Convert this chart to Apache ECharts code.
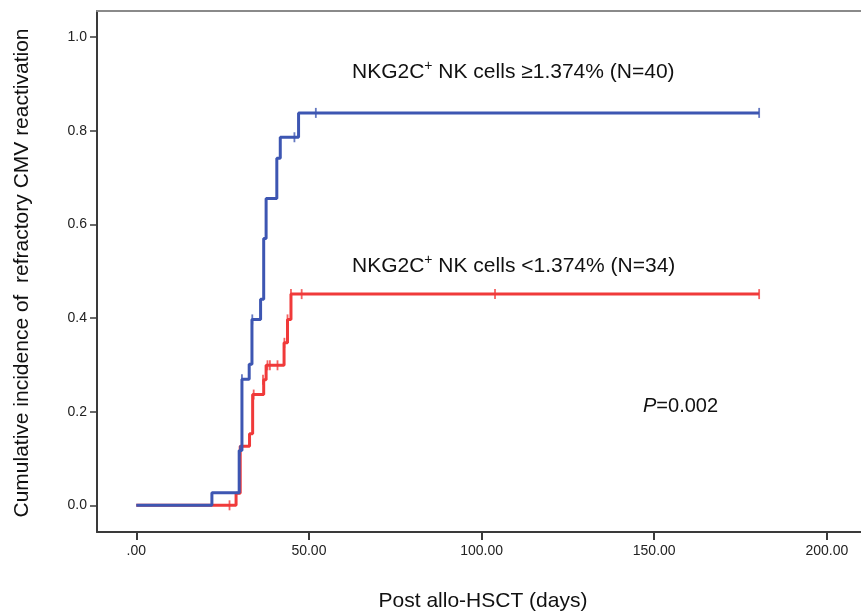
<!DOCTYPE html>
<html>
<head>
<meta charset="utf-8">
<script src="https://cdn.jsdelivr.net/npm/echarts@6/dist/echarts.min.js"></script>
<style>
  html, body { margin: 0; padding: 0; background: #fff; }
  #chart { width: 861px; height: 613px; }
</style>
</head>
<body>
<div id="chart"></div>
<script>
// Cumulative incidence of refractory CMV reactivation by NKG2C+ NK cell level
const xTicks = [0, 50, 100, 150, 200];
const xTickLabels = ['.00', '50.00', '100.00', '150.00', '200.00'];
const yTicks = [0, 0.2, 0.4, 0.6, 0.8, 1.0];
const yTickLabels = ['0.0', '0.2', '0.4', '0.6', '0.8', '1.0'];

// High group (>=1.374%), step curve: event times and cumulative incidence
const highTimes  = [0, 21.9, 29.8, 30.6, 32.7, 33.5, 36.0, 36.9, 37.6, 40.7, 41.7, 47.0, 180.4];
const highValues = [0, 0.027, 0.117, 0.269, 0.301, 0.397, 0.440, 0.570, 0.655, 0.741, 0.786, 0.838, 0.838];
// High group censored observations
const highCensorTimes  = [30.0, 30.6, 33.6, 45.8, 52.0, 180.4];
const highCensorValues = [0.117, 0.269, 0.397, 0.786, 0.838, 0.838];

// Low group (<1.374%)
const lowTimes  = [0, 28.9, 30.1, 32.8, 33.7, 36.9, 37.6, 42.8, 43.8, 44.8, 180.4];
const lowValues = [0, 0.026, 0.126, 0.153, 0.2365, 0.268, 0.299, 0.347, 0.397, 0.451, 0.451];
const lowCensorTimes  = [27.0, 34.0, 36.7, 38.0, 38.7, 40.9, 42.9, 43.8, 44.8, 47.9, 103.9, 180.4];
const lowCensorValues = [0, 0.2365, 0.268, 0.299, 0.299, 0.299, 0.347, 0.397, 0.451, 0.451, 0.451, 0.451];

const highLabel = 'NKG2C⁺ NK cells ≥1.374% (N=40)';
const lowLabel = 'NKG2C⁺ NK cells <1.374% (N=34)';

const BLUE = '#3d56b2';
const RED = '#f03a3a';
const FONT = '"Liberation Sans", Arial, sans-serif';
const TEXT = '#111';

// visible axis range; the frame runs off the right edge of the canvas
const X_MIN = -11.38, X_MAX = 209.9;
const Y_MIN = -0.057, Y_MAX = 1.0556;

const zip = (xs, ys) => xs.map((x, i) => [x, ys[i]]);

const chart = echarts.init(document.getElementById('chart'), null, { renderer: 'canvas' });

const riskLabel = (text) => {
  // split around the superscript plus so it can be drawn raised and smaller
  const parts = text.split('⁺');
  return '{n|' + parts[0] + '}{sup|+}{n|' + parts[1] + '}';
};
const richStyle = {
  n: { fontSize: 21, fontFamily: FONT, fill: TEXT },
  sup: { fontSize: 14, fontFamily: FONT, fill: TEXT, padding: [0, 0, 11, 0] }
};

chart.setOption({
  animation: false,
  backgroundColor: '#fff',
  grid: { left: 97, top: 11, bottom: 81, right: 0, show: false },
  xAxis: [
    {
      type: 'value',
      min: X_MIN, max: X_MAX,
      splitLine: { show: false },
      axisLine: { onZero: false, lineStyle: { color: '#3a3a3a', width: 2 } },
      axisTick: { customValues: xTicks, length: 8, lineStyle: { color: '#3a3a3a', width: 2 } },
      axisLabel: {
        customValues: xTicks,
        formatter: (v) => xTickLabels[xTicks.indexOf(v)],
        color: '#222', fontSize: 14, fontFamily: FONT, margin: 12
      }
    },
    {
      // top frame line
      type: 'value', position: 'top',
      min: X_MIN, max: X_MAX,
      splitLine: { show: false },
      axisLine: { onZero: false, lineStyle: { color: '#8a8a8a', width: 2 } },
      axisTick: { show: false },
      axisLabel: { show: false }
    }
  ],
  yAxis: {
    type: 'value',
    min: Y_MIN, max: Y_MAX,
    splitLine: { show: false },
    axisLine: { onZero: false, lineStyle: { color: '#3a3a3a', width: 2 } },
    axisTick: { customValues: yTicks, length: 7, lineStyle: { color: '#3a3a3a', width: 1.5 } },
    axisLabel: {
      customValues: yTicks,
      formatter: (v) => yTickLabels[yTicks.findIndex(t => Math.abs(t - v) < 1e-9)],
      color: '#222', fontSize: 14, fontFamily: FONT, margin: 10
    }
  },
  series: [
    {
      type: 'line', step: 'end', data: zip(lowTimes, lowValues),
      showSymbol: false, lineStyle: { color: RED, width: 3 }, z: 2
    },
    {
      type: 'scatter', data: zip(lowCensorTimes, lowCensorValues),
      symbol: 'rect', symbolSize: [1.8, 10], itemStyle: { color: RED }, z: 3
    },
    {
      type: 'line', step: 'end', data: zip(highTimes, highValues),
      showSymbol: false, lineStyle: { color: BLUE, width: 3 }, z: 4
    },
    {
      type: 'scatter', data: zip(highCensorTimes, highCensorValues),
      symbol: 'rect', symbolSize: [1.8, 10], itemStyle: { color: BLUE }, z: 5
    }
  ],
  graphic: [
    {
      type: 'text', x: 352, y: 72,
      style: { text: riskLabel(highLabel), rich: richStyle, verticalAlign: 'middle' }
    },
    {
      type: 'text', x: 352, y: 266,
      style: { text: riskLabel(lowLabel), rich: richStyle, verticalAlign: 'middle' }
    },
    {
      type: 'text', x: 643, y: 406,
      style: {
        text: '{i|P}{n|=0.002}',
        rich: {
          i: { fontSize: 20, fontFamily: FONT, fontStyle: 'italic', fill: TEXT },
          n: { fontSize: 20, fontFamily: FONT, fill: TEXT }
        },
        verticalAlign: 'middle'
      }
    },
    {
      type: 'text', x: 483, y: 601,
      style: { text: 'Post allo-HSCT (days)', font: '21px ' + FONT, fill: TEXT, align: 'center', verticalAlign: 'middle' }
    },
    {
      type: 'text', x: 22, y: 273, rotation: Math.PI / 2,
      style: {
        text: 'Cumulative incidence of  refractory CMV reactivation',
        font: '21px ' + FONT, fill: TEXT, align: 'center', verticalAlign: 'middle'
      }
    }
  ]
});
</script>
</body>
</html>
